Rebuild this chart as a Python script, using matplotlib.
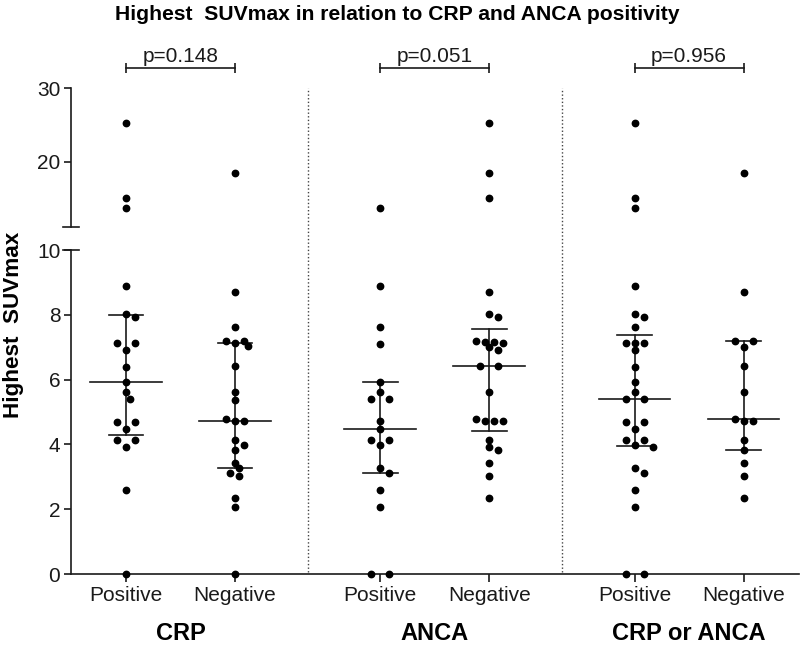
import numpy as np
import matplotlib
matplotlib.use("Agg")
import matplotlib.pyplot as plt
from matplotlib.transforms import blended_transform_factory

plt.rcParams["font.family"] = ["Liberation Sans", "DejaVu Sans"]

# highest SUVmax per patient
crp_pos = [25.2, 15.0, 13.65, 8.9, 8.02, 7.94, 7.12, 7.12, 6.91, 6.40, 5.92, 5.61, 5.41,
           4.70, 4.70, 4.47, 4.13, 4.13, 3.92, 2.59, 0.0]
crp_neg = [18.4, 8.7, 7.61, 7.2, 7.2, 7.12, 7.04, 6.42, 5.61, 5.36, 4.78, 4.71, 4.71,
           4.13, 3.98, 3.82, 3.42, 3.26, 3.13, 3.03, 2.34, 2.08, 0.0]
anca_pos = [13.65, 8.9, 7.61, 7.10, 5.92, 5.61, 5.41, 5.41, 4.72, 4.47, 4.13, 4.13,
            3.99, 3.26, 3.13, 2.59, 2.08, 0.0, 0.0]
anca_neg = [25.2, 18.4, 15.0, 8.71, 8.02, 7.94, 7.2, 7.17, 7.17, 7.12, 7.0, 6.91, 6.42,
            6.42, 5.61, 4.78, 4.71, 4.71, 4.71, 4.13, 3.92, 3.82, 3.42, 3.03, 2.34]
either_pos = [25.2, 15.0, 13.65, 8.9, 8.02, 7.94, 7.61, 7.12, 7.12, 7.12, 6.91, 6.40,
              5.92, 5.61, 5.41, 5.41, 4.70, 4.70, 4.47, 4.13, 4.13, 3.98, 3.92, 3.26,
              3.13, 2.59, 2.08, 0.0, 0.0]
either_neg = [18.4, 8.71, 7.2, 7.2, 7.02, 6.42, 5.61, 4.78, 4.71, 4.71, 4.13, 3.82,
              3.42, 3.03, 2.34]

groups = ["CRP", "ANCA", "CRP or ANCA"]
subgroups = ["Positive", "Negative"]
series = [crp_pos, crp_neg, anca_pos, anca_neg, either_pos, either_neg]
p_values = ["p=0.148", "p=0.051", "p=0.956"]

INK = "#1a1a1a"
LW = 1.2
W, H = 800, 646
GROUP_STEP = 2.333
BREAK_LO, BREAK_HI = 10, 11.1

fig = plt.figure(figsize=(W / 100, H / 100), dpi=100)
fig.patch.set_facecolor("white")
left, right = 70.7, 799
ax_lo = fig.add_axes([left / W, 72 / H, (right - left) / W, 324 / H])
ax_hi = fig.add_axes([left / W, 419.3 / H, (right - left) / W, 138.4 / H], sharex=ax_lo)

positions = [g * GROUP_STEP + k for g in range(len(groups)) for k in range(len(subgroups))]
ax_lo.set_xlim(-0.507, 6.175)
ax_lo.set_ylim(0, BREAK_LO)
ax_hi.set_ylim(BREAK_HI, 30)


def swarm_offsets(vals, step=9.0, min_d=6.8):
    # simple beeswarm laid out in display pixels
    vals = np.asarray(vals, float)
    ypx = np.array([
        (ax_hi if v > BREAK_LO else ax_lo).transData.transform((0, v))[1] for v in vals
    ])
    order = np.argsort(-vals, kind="stable")
    clusters = []
    for i in order:
        if clusters and abs(ypx[clusters[-1][-1]] - ypx[i]) < 2.5:
            clusters[-1].append(i)
        else:
            clusters.append([i])
    offs = np.zeros(len(vals))
    placed = []
    shifts = [0, step / 2, -step / 2, step, -step, 1.5 * step, -1.5 * step, 2 * step, -2 * step]
    for cl in clusters:
        spacing = 2 * step if len(cl) == 2 else step
        base = (np.arange(len(cl)) - (len(cl) - 1) / 2) * spacing
        for s in shifts:
            xs = base + s
            if all(np.hypot(x - px, ypx[i] - py) >= min_d
                   for x, i in zip(xs, cl) for px, py in placed):
                break
        for x, i in zip(xs, cl):
            offs[i] = x
            placed.append((x, ypx[i]))
    px_per_unit = ax_lo.transData.transform((1, 0))[0] - ax_lo.transData.transform((0, 0))[0]
    return offs / px_per_unit


for pos, vals in zip(positions, series):
    vals = np.asarray(vals, float)
    xs = pos + swarm_offsets(vals)
    hi = vals > BREAK_LO
    ax_lo.plot(xs[~hi], vals[~hi], "o", color="black", ms=4.6, clip_on=False, zorder=3)
    ax_hi.plot(xs[hi], vals[hi], "o", color="black", ms=4.6, clip_on=False, zorder=3)
    q1, med, q3 = np.percentile(vals, [25, 50, 75], method="weibull")
    ax_lo.plot([pos - 0.33, pos + 0.33], [med, med], color=INK, lw=LW, zorder=2)
    for q in (q1, q3):
        ax_lo.plot([pos - 0.16, pos + 0.16], [q, q], color=INK, lw=LW, zorder=2)
    ax_lo.plot([pos, pos], [q1, q3], color=INK, lw=LW, zorder=2)

# axes styling
for ax in (ax_lo, ax_hi):
    ax.spines["top"].set_visible(False)
    ax.spines["right"].set_visible(False)
    ax.spines["left"].set_linewidth(LW)
    ax.spines["left"].set_color(INK)
    ax.tick_params(axis="y", length=5, width=LW, color=INK, labelsize=15,
                   labelcolor=INK, pad=2.5)
    ax.set_facecolor("none")
ax_lo.spines["bottom"].set_linewidth(LW)
ax_lo.spines["bottom"].set_color(INK)
ax_hi.spines["bottom"].set_visible(False)
ax_lo.set_yticks([0, 2, 4, 6, 8, 10])
ax_hi.set_yticks([20, 30])
ax_lo.set_xticks(positions)
ax_lo.set_xticklabels(subgroups * len(groups))
ax_lo.tick_params(axis="x", length=5.5, width=LW, color=INK, labelsize=15,
                  labelcolor=INK, pad=3)
ax_hi.tick_params(axis="x", bottom=False, labelbottom=False)

# break marks on the y axis
brk = 8 / (right - left)
ax_lo.plot([-brk, brk], [BREAK_LO, BREAK_LO], color=INK, lw=LW, clip_on=False,
           transform=ax_lo.get_yaxis_transform())
ax_hi.plot([-brk, brk], [BREAK_HI, BREAK_HI], color=INK, lw=LW, clip_on=False,
           transform=ax_hi.get_yaxis_transform())

# dotted separators between groups
sep_tr = blended_transform_factory(ax_lo.transData, fig.transFigure)
for g in range(1, len(groups)):
    xsep = (positions[2 * g - 1] + positions[2 * g]) / 2
    fig.add_artist(plt.Line2D([xsep, xsep], [(H - 572) / H, (H - 88) / H], transform=sep_tr,
                              color="#444444", lw=1.0, linestyle=(0, (1, 1.6))))

# p-value brackets and group labels
for g, (name, ptxt) in enumerate(zip(groups, p_values)):
    x0, x1 = positions[2 * g], positions[2 * g + 1]
    fig.add_artist(plt.Line2D([x0, x1], [(H - 68.3) / H] * 2, transform=sep_tr, color=INK,
                              lw=LW, marker="|", ms=7, mew=LW))
    fig.text((x0 + x1) / 2, (H - 61.7) / H, ptxt, transform=sep_tr, ha="center",
             va="baseline", fontsize=15, color=INK)
    fig.text((x0 + x1) / 2, 1 / H, name, transform=sep_tr, ha="center", va="bottom",
             fontsize=17, fontweight="bold", color="black")

fig.text(397 / W, (H - 20) / H, "Highest  SUVmax in relation to CRP and ANCA positivity",
         ha="center", va="baseline", fontsize=15.2, fontweight="bold", color="black")
fig.text(14 / W, (H - 325) / H, "Highest  SUVmax", rotation=90, ha="center", va="center",
         fontsize=16.2, fontweight="bold", color="black")

fig.savefig("out.png", dpi=100, facecolor="white")
